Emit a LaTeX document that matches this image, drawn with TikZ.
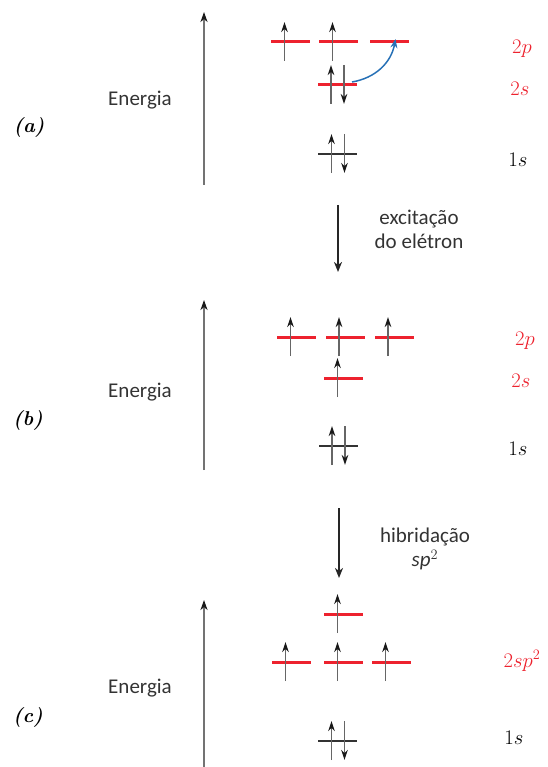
\documentclass[tikz,border=0pt]{standalone}
\usepackage{fontspec}
\newfontfamily\txtfont{Carlito}
\usetikzlibrary{arrows.meta,positioning}
\definecolor{lvlred}{RGB}{237,34,46}
\definecolor{jumpblue}{RGB}{38,112,182}
\tikzset{
  lvl/.style={fill=lvlred,minimum width=39pt,minimum height=3pt,inner sep=0pt},
  core/.style={fill=black!80,minimum width=39pt,minimum height=2.2pt,inner sep=0pt},
  elec/.style={black!60,line width=1.9pt,-{Stealth[length=10pt,width=6.5pt,inset=3pt,black!90]}},
  axis/.style={black!55,line width=1.9pt,-{Stealth[length=10pt,width=7pt,inset=3pt,black!90]}},
  stepdown/.style={black!85,line width=1.8pt,-{Stealth[length=10pt,width=8pt,inset=3pt]}},
  orb/.style={font=\fontsize{20}{22}\selectfont},
  txt/.style={font=\txtfont\fontsize{21}{24}\selectfont,text=black!80,align=center},
  part/.style={font=\fontsize{20}{22}\selectfont\bfseries\itshape}
}
\newcommand{\elup}[1]{\draw[elec] ([shift={(-6,19)}]#1.center) -- ([shift={(-6,-20)}]#1.center);}
\newcommand{\eldown}[1]{\draw[elec] ([shift={(7,-20)}]#1.center) -- ([shift={(7,19)}]#1.center);}
\begin{document}
\begin{tikzpicture}[x=1pt,y=-1pt]
  \useasboundingbox (0,0) rectangle (547,767);

  % (a)
  \draw[axis] (204,185) -- (204,12);
  \node[txt] (ea) at (140,100) {Energia};
  \node[part] (pa) at (29,127) {(a)};
  \node[lvl] (a2p1) at (290.5,42) {};
  \node[lvl] (a2p2) at (338.5,42) {};
  \node[lvl] (a2p3) at (389.5,42) {};
  \node[lvl] (a2s) at (337,85) {};
  \node[core] (a1s) at (337.5,154) {};
  \elup{a2p1} \elup{a2p2}
  \elup{a2s} \eldown{a2s}
  \elup{a1s} \eldown{a1s}
  \draw[jumpblue,line width=1.5pt,-{Stealth[length=9pt,width=7pt,inset=3pt]}]
    ([shift={(15,-3)}]a2s.center) to[bend right=35] ([shift={(6,-3)}]a2p3.center);
  \node[orb,text=lvlred] (la2p) at (522,49) {$2p$};
  \node[orb,text=lvlred] (la2s) at (520,89) {$2s$};
  \node[orb] (la1s) at (518,160) {$1s$};

  % excitation
  \coordinate (s1a) at (338,205);
  \coordinate (s1b) at (338,272);
  \draw[stepdown] (s1a) -- (s1b);
  \node[txt] (exc) at (419,229) {excitação\\do elétron};

  % (b)
  \draw[axis] (204,470) -- (204,300);
  \node[txt] (eb) at (140,392) {Energia};
  \node[part] (pb) at (28,420) {(b)};
  \node[lvl] (b2p1) at (296.5,337) {};
  \node[lvl] (b2p2) at (345,337) {};
  \node[lvl] (b2p3) at (394,337) {};
  \node[lvl] (b2s) at (343.5,378) {};
  \node[core] (b1s) at (338,446) {};
  \elup{b2p1} \elup{b2p2} \elup{b2p3}
  \elup{b2s}
  \elup{b1s} \eldown{b1s}
  \node[orb,text=lvlred] (lb2p) at (525,341) {$2p$};
  \node[orb,text=lvlred] (lb2s) at (521,381) {$2s$};
  \node[orb] (lb1s) at (518,449) {$1s$};

  % hybridisation
  \coordinate (s2a) at (339,508);
  \coordinate (s2b) at (339,578);
  \draw[stepdown] (s2a) -- (s2b);
  \node[txt] (hyb) at (425,549) {hibridação\\\textit{sp}$^{\scriptstyle 2}$};

  % (c)
  \draw[axis] (204,767) -- (204,600);
  \node[txt] (ec) at (140,688) {Energia};
  \node[part] (pc) at (28,717) {(c)};
  \node[lvl] (ctop) at (343.5,614) {};
  \node[lvl] (c1) at (291.5,662) {};
  \node[lvl] (c2) at (343.5,662) {};
  \node[lvl] (c3) at (391.5,662) {};
  \node[core] (c1s) at (337.5,741) {};
  \elup{ctop}
  \elup{c1} \elup{c2} \elup{c3}
  \elup{c1s} \eldown{c1s}
  \node[orb,text=lvlred] (lc2sp) at (522,661) {$2sp^2$};
  \node[orb] (lc1s) at (514,738) {$1s$};
\end{tikzpicture}
\end{document}
